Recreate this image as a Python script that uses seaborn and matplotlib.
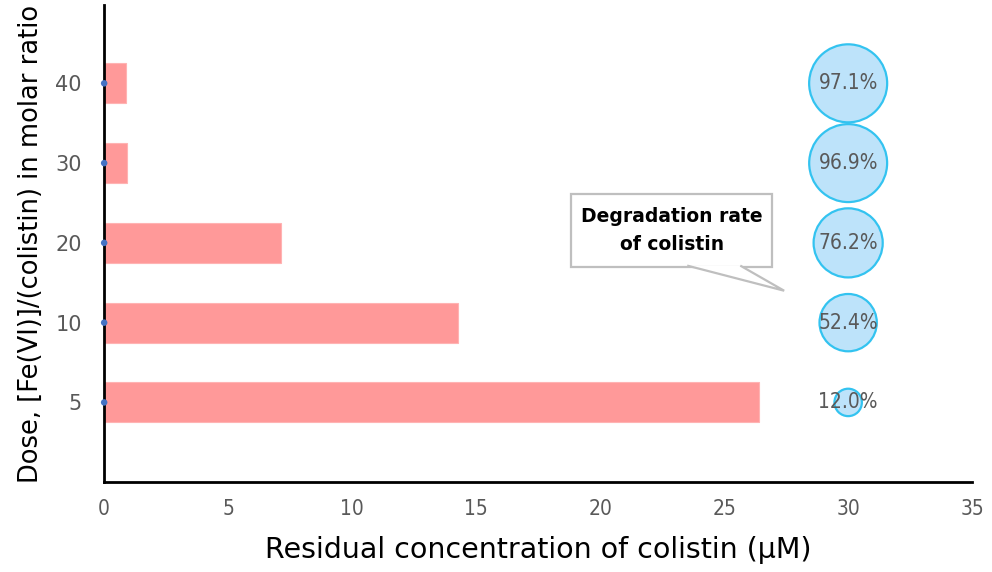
import matplotlib
matplotlib.use("Agg")
import matplotlib.pyplot as plt
from matplotlib.patches import Polygon, Rectangle
import seaborn as sns
import pandas as pd

# data
doses = ["40", "30", "20", "10", "5"]
residual = [0.87, 0.93, 7.14, 14.28, 26.4]          # µM
degradation = [97.1, 96.9, 76.2, 52.4, 12.0]        # %
bubble_x = [30, 30, 30, 30, 30]
dot_x = [0, 0, 0, 0, 0]
x_ticks = [0, 5, 10, 15, 20, 25, 30, 35]

df = pd.DataFrame({"dose": doses, "residual": residual,
                   "rate": degradation, "bx": bubble_x, "dx": dot_x})

sns.set_style("white")
plt.rcParams["font.family"] = ["DejaVu Sans"]
gray = "#595959"

fig = plt.figure(figsize=(9.92, 5.72), dpi=100)
ax = fig.add_axes([0.105, 0.157, 0.875, 0.834])

sns.barplot(data=df, x="residual", y="dose", order=doses, orient="h",
            color="#FF9999", width=0.5, saturation=1, edgecolor="#FFB3B3",
            linewidth=0.8, ax=ax)

sns.scatterplot(data=df, x="bx", y="dose", size="rate", sizes=(0, 3250),
                size_norm=(0, 100), color="#BDE3FA", edgecolor="#33C3F0",
                linewidth=1.6, legend=False, ax=ax, zorder=3)
sns.scatterplot(data=df, x="dx", y="dose", color="#4472C4", s=22,
                edgecolor="none", legend=False, ax=ax, zorder=4,
                clip_on=False)

for i, r in enumerate(df["rate"]):
    ax.text(df["bx"][i], i, f"{r:.1f}%", ha="center", va="center",
            fontsize=15, color=gray, fontstretch="condensed", zorder=5)

ax.set_xlim(0, 35)
ax.set_ylim(5, -0.98)
ax.set_xticks(x_ticks)
ax.set_xticklabels([str(t) for t in x_ticks], fontsize=15, color=gray,
                   fontstretch="condensed")
ax.tick_params(axis="y", labelsize=15, labelcolor=gray, length=0, pad=16)
ax.tick_params(axis="x", length=0, pad=12)

for s in ["top", "right"]:
    ax.spines[s].set_visible(False)
for s in ["left", "bottom"]:
    ax.spines[s].set_color("black")
    ax.spines[s].set_linewidth(2)

ax.set_xlabel("Residual concentration of colistin (\u00b5M)", fontsize=20.5,
              color="black", labelpad=12)
ax.set_ylabel("Dose, [Fe(VI)]/(colistin) in molar ratio", fontsize=18.5,
              color="black", labelpad=8)

# callout box
ax.add_patch(Rectangle((18.83, 1.39), 8.11, 0.91, facecolor="white",
                       edgecolor="#BFBFBF", linewidth=1.6, zorder=6))
ax.add_patch(Polygon([(23.51, 2.285), (27.42, 2.6), (25.65, 2.285)],
                     closed=False, facecolor="white", edgecolor="#BFBFBF",
                     linewidth=1.6, zorder=7))
ax.text(22.88, 1.84, "Degradation rate\nof colistin", ha="center",
        va="center", fontsize=13.5, fontweight="bold", color="black",
        linespacing=1.6, zorder=8)

fig.savefig("out.png", dpi=100)
